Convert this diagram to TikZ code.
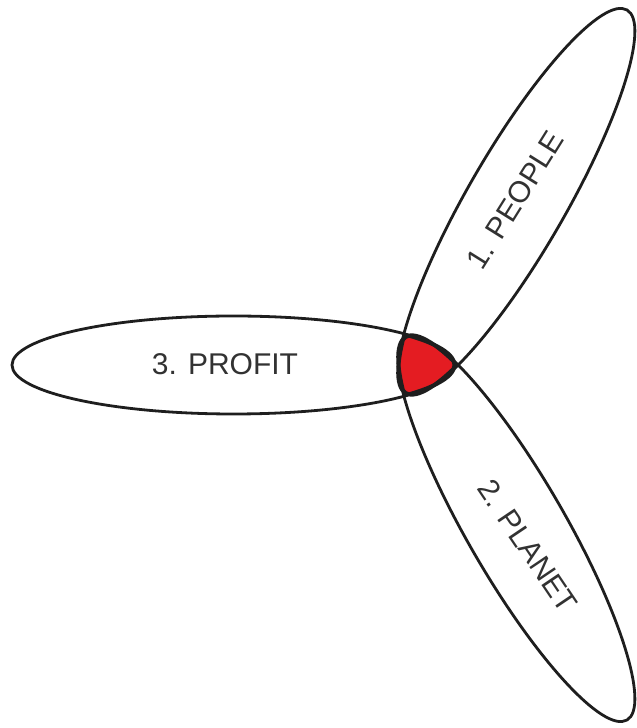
\documentclass[tikz,border=0pt]{standalone}
\usepackage{fontspec}
\setmainfont{Liberation Sans}
\definecolor{petal}{RGB}{30,30,30}
\definecolor{core}{RGB}{228,28,34}
\definecolor{labeltext}{RGB}{50,50,50}

\begin{document}
\begin{tikzpicture}[x=1pt,y=1pt,
  petalline/.style={draw=petal,line width=2.8pt},
  petallabel/.style={text=labeltext,font=\fontsize{30}{36}\selectfont,inner sep=0pt}]
\useasboundingbox (0,0) rectangle (637,728);
\coordinate (O) at (422,363);
\coordinate (Cprofit) at (233.5,363);
\coordinate (Cpeople) at (516.25,526.2);
\coordinate (Cplanet) at (516.25,199.8);

% red core = inside all three
\begin{scope}
\clip (Cprofit) ellipse [x radius=221.5,y radius=49];
\clip[rotate around={60:(Cpeople)}] (Cpeople) ellipse [x radius=221.5,y radius=49];
\fill[core,draw=petal,line width=5pt,rotate around={-60:(Cplanet)}] (Cplanet) ellipse [x radius=221.5,y radius=49];
\end{scope}
\begin{scope}
\clip (Cprofit) ellipse [x radius=221.5,y radius=49];
\clip[rotate around={-60:(Cplanet)}] (Cplanet) ellipse [x radius=221.5,y radius=49];
\draw[petal,line width=5pt,rotate around={60:(Cpeople)}] (Cpeople) ellipse [x radius=221.5,y radius=49];
\end{scope}
\begin{scope}
\clip[rotate around={60:(Cpeople)}] (Cpeople) ellipse [x radius=221.5,y radius=49];
\clip[rotate around={-60:(Cplanet)}] (Cplanet) ellipse [x radius=221.5,y radius=49];
\draw[petal,line width=5pt] (Cprofit) ellipse [x radius=221.5,y radius=49];
\end{scope}

\draw[petalline] (Cprofit) ellipse [x radius=221.5,y radius=49]; % profit
\draw[petalline,rotate around={60:(Cpeople)}] (Cpeople) ellipse [x radius=221.5,y radius=49]; % people
\draw[petalline,rotate around={-60:(Cplanet)}] (Cplanet) ellipse [x radius=221.5,y radius=49]; % planet

\node[petallabel] (profit) at (225,364) {3. PROFIT};
\node[petallabel,rotate=58] (people) at (515,528) {1. PEOPLE};
\node[petallabel,rotate=-56] (planet) at (528,182) {2. PLANET};
\end{tikzpicture}
\end{document}
